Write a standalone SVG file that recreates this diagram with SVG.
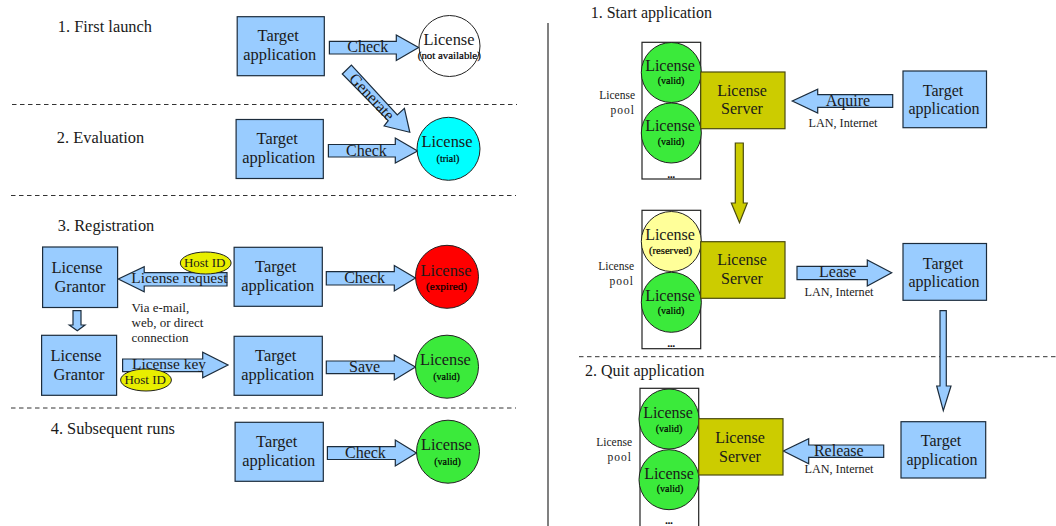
<svg xmlns="http://www.w3.org/2000/svg" width="1056" height="526" viewBox="0 0 1056 526">
<style>
text{font-family:"Liberation Serif","Times New Roman",serif;fill:#1a1a1a;text-anchor:middle;font-size:16px}
.h{text-anchor:start}
.s{font-size:10px;fill:#000;stroke:#000;stroke-width:.2}
.m{font-size:12.2px}
.r{font-size:11.5px;text-anchor:end}
g.l>text{font-size:16.4px}
g.l>text.s{font-size:10px}
.b{fill:#99ccff;stroke:#1c2c3c;stroke-width:1.2}
.o{fill:#cccc00;stroke:#4a4a10;stroke-width:1.2}
.c{stroke:#222;stroke-width:1}
.g{fill:#3bea3b}
.y{fill:#e8ee00;stroke:#222;stroke-width:1}
.p{fill:#fff;stroke:#222;stroke-width:1.2}
.d{stroke:#333;stroke-width:1;stroke-dasharray:4.5 3.5;fill:none}
</style>
<rect width="1056" height="526" fill="#fff"/>
<g id="separators">
<path class="d" d="M12 104.5H517M11 195.5H516M11 408H516M579 356.7H1056"/>
<path d="M548 23V526" stroke="#808080" stroke-width="2" fill="none"/>
</g>
<g id="headings-left" class="l">
<text class="h" x="57.8" y="32">1. First launch</text>
<text class="h" x="56.8" y="142.7">2. Evaluation</text>
<text class="h" x="57.8" y="230.7">3. Registration</text>
<text class="h" x="50.7" y="434">4. Subsequent runs</text>
</g>
<g id="headings-right">
<text class="h" x="590.7" y="18.3">1. Start application</text>
<text class="h" x="585" y="376">2. Quit application</text>
</g>
<g id="connectors">
<path class="b" d="M329.4 41.3H396.3V35L418.6 47.5L396.3 60.5V54H329.4Z"/>
<path class="b" d="M342.3 74L351.4 65L397.3 115L404.4 108.3L409.8 132.3L384.1 126L388.2 120.7Z"/>
<path class="b" d="M328.4 144.5H395.3V138L417.6 151L395.3 163V157H328.4Z"/>
<path class="b" d="M326.3 271.7H394.3V265.5L415.5 278L394.3 291V285H326.3Z"/>
<path class="b" d="M326.3 361H394.3V355L415.5 367L394.3 380V373.7H326.3Z"/>
<path class="b" d="M327.4 446.7H395.3V440L416.5 453L395.3 466V459.5H327.4Z"/>
<path class="b" d="M227 272.7H144.2V266.7L118.3 279L144.2 291.7V286H227Z"/>
<path class="b" d="M122.6 359H202.7V352.3L228 365L202.7 377.7V371.7H122.6Z"/>
<path class="b" d="M73 310.7H81V325H85L77.3 330.7L69.3 325H73Z"/>
<path class="b" d="M892.7 94.7H817.7V89.3L792.3 101L817.7 113V107.3H892.7Z"/>
<path class="o" d="M735.3 143H743.3V203H747.3L739.5 222.7L731.3 203H735.3Z"/>
<path class="b" d="M797 266.3H867.3V260L891.7 272.7L867.3 286V279.7H797Z"/>
<path class="b" d="M940 310.7H946.3V386H951L943.3 410.7L936.7 386H940Z"/>
<path class="b" d="M883.7 445H808.7V438.7L783.3 451L808.7 463.7V457.3H883.7Z"/>
<text x="367.7" y="52.3">Check</text>
<text x="371.7" y="102" transform="rotate(47 371.7 97)">Generate</text>
<text x="366.4" y="155.7">Check</text>
<text x="364.6" y="283">Check</text>
<text x="364.6" y="372.3">Save</text>
<text x="365.4" y="458.3">Check</text>
<text x="179.4" y="283.3" style="font-size:15.4px">License request</text>
<text x="169" y="368.7" style="font-size:15.4px">License key</text>
<text x="848" y="106">Aquire</text>
<text class="m" x="843" y="127">LAN, Internet</text>
<text x="837.7" y="277.3">Lease</text>
<text class="m" x="839" y="295.7">LAN, Internet</text>
<text x="838.8" y="456">Release</text>
<text class="m" x="839" y="473.3">LAN, Internet</text>
</g>
<g id="via-note">
<text class="h" x="131.5" y="311.7" style="font-size:13px">Via e-mail,</text>
<text class="h" x="131.5" y="326.5" style="font-size:13px">web, or direct</text>
<text class="h" x="131.5" y="341.5" style="font-size:13px">connection</text>
</g>
<g id="target-1" class="l"><rect class="b" x="237.2" y="16.7" width="87.1" height="59"/><text x="278.2" y="41">Target</text><text x="279.7" y="60">application</text></g>
<g id="target-2" class="l"><rect class="b" x="236.1" y="119.5" width="87.2" height="59"/><text x="277.2" y="144">Target</text><text x="278.7" y="163">application</text></g>
<g id="target-3" class="l"><rect class="b" x="234.1" y="247.3" width="88.2" height="59"/><text x="275.7" y="272">Target</text><text x="277.7" y="291">application</text></g>
<g id="target-4" class="l"><rect class="b" x="234.1" y="336.3" width="88.2" height="59"/><text x="275.7" y="361">Target</text><text x="277.7" y="380">application</text></g>
<g id="target-5" class="l"><rect class="b" x="235.1" y="422.3" width="88.2" height="59"/><text x="276.7" y="447">Target</text><text x="278.7" y="466">application</text></g>
<g id="grantor-1" class="l"><rect class="b" x="42.6" y="247" width="75" height="60.5"/><text x="77" y="272.7">License</text><text x="80" y="292">Grantor</text></g>
<g id="grantor-2" class="l"><rect class="b" x="41.6" y="335.3" width="75" height="60"/><text x="76" y="361">License</text><text x="79" y="380">Grantor</text></g>
<g id="license-1" class="l"><circle class="c" fill="#fff" cx="449.5" cy="46" r="30.5"/><text x="449" y="45">License</text><text class="s" x="449.3" y="59" textLength="63" lengthAdjust="spacingAndGlyphs">(not available)</text></g>
<g id="license-2" class="l"><circle class="c" fill="#00ffff" cx="448.5" cy="148.8" r="31.5"/><text x="447" y="147">License</text><text class="s" x="448" y="162">(trial)</text></g>
<g id="license-3" class="l"><circle class="c" fill="#ff0000" cx="447" cy="276.8" r="31.5"/><text x="446" y="275.7">License</text><text class="s" x="446.5" y="290" textLength="41" lengthAdjust="spacingAndGlyphs">(expired)</text></g>
<g id="license-4" class="l"><circle class="c g" cx="447" cy="366.7" r="31.5"/><text x="445.4" y="365">License</text><text class="s" x="446.5" y="379.5">(valid)</text></g>
<g id="license-5" class="l"><circle class="c g" cx="448" cy="451.7" r="31.5"/><text x="446.4" y="450">License</text><text class="s" x="447.5" y="464.5">(valid)</text></g>
<g id="host-id-1"><ellipse class="y" cx="205.7" cy="263" rx="25.4" ry="11"/><text x="204.7" y="267" style="font-size:13px">Host ID</text></g>
<g id="host-id-2"><ellipse class="y" cx="146" cy="380" rx="25.4" ry="11"/><text x="145.2" y="384" style="font-size:13px">Host ID</text></g>
<g id="pool-1"><rect class="p" x="642" y="42.3" width="58.7" height="136.7"/>
<circle class="c g" cx="671.3" cy="72.5" r="30"/><circle class="c g" cx="671.3" cy="133" r="30"/>
<text x="670" y="70.7">License</text><text class="s" x="671" y="84.3">(valid)</text><text x="670" y="131">License</text><text class="s" x="671" y="145">(valid)</text>
<text class="s" x="671.3" y="178" style="font-weight:bold">...</text>
<text class="r" x="635" y="99.3">License</text><text class="r" x="635" y="114.3" letter-spacing="1">pool</text></g>
<g id="server-1"><rect class="o" x="700.7" y="72" width="84.3" height="56.7"/><text x="742" y="95.7">License</text><text x="742" y="114.3">Server</text></g>
<g id="target-6"><rect class="b" x="903" y="71" width="83.5" height="56.7"/><text x="943" y="96">Target</text><text x="944" y="114.3">application</text></g>
<g id="pool-2"><rect class="p" x="642" y="210.3" width="58.7" height="138.4"/>
<circle class="c" fill="#ffff99" cx="671.3" cy="241.5" r="30"/><circle class="c g" cx="671.3" cy="302.3" r="30"/>
<text x="670" y="240">License</text><text class="s" x="670.5" y="254" textLength="43" lengthAdjust="spacingAndGlyphs">(reserved)</text><text x="670" y="300.5">License</text><text class="s" x="671" y="314">(valid)</text>
<text class="s" x="671.3" y="347" style="font-weight:bold">...</text>
<text class="r" x="634" y="270">License</text><text class="r" x="634" y="285" letter-spacing="1">pool</text></g>
<g id="server-2"><rect class="o" x="700.7" y="241.7" width="84.3" height="56.6"/><text x="742" y="265">License</text><text x="742" y="284">Server</text></g>
<g id="target-7"><rect class="b" x="903" y="243.5" width="83.5" height="56.8"/><text x="943" y="268.5">Target</text><text x="944" y="287">application</text></g>
<g id="pool-3"><rect class="p" x="640" y="388.3" width="58.7" height="139"/>
<circle class="c g" cx="669" cy="419" r="30"/><circle class="c g" cx="669" cy="479.7" r="30"/>
<text x="668" y="418">License</text><text class="s" x="669" y="431.5">(valid)</text><text x="669" y="479">License</text><text class="s" x="670" y="492">(valid)</text>
<text class="s" x="669" y="524" style="font-weight:bold">...</text>
<text class="r" x="632" y="445.7">License</text><text class="r" x="632" y="461" letter-spacing="1">pool</text></g>
<g id="server-3"><rect class="o" x="698.7" y="418.7" width="84.3" height="56.3"/><text x="740" y="443">License</text><text x="740" y="461.5">Server</text></g>
<g id="target-8"><rect class="b" x="901" y="421.7" width="84.7" height="56.3"/><text x="941" y="446">Target</text><text x="942" y="465">application</text></g>
</svg>
